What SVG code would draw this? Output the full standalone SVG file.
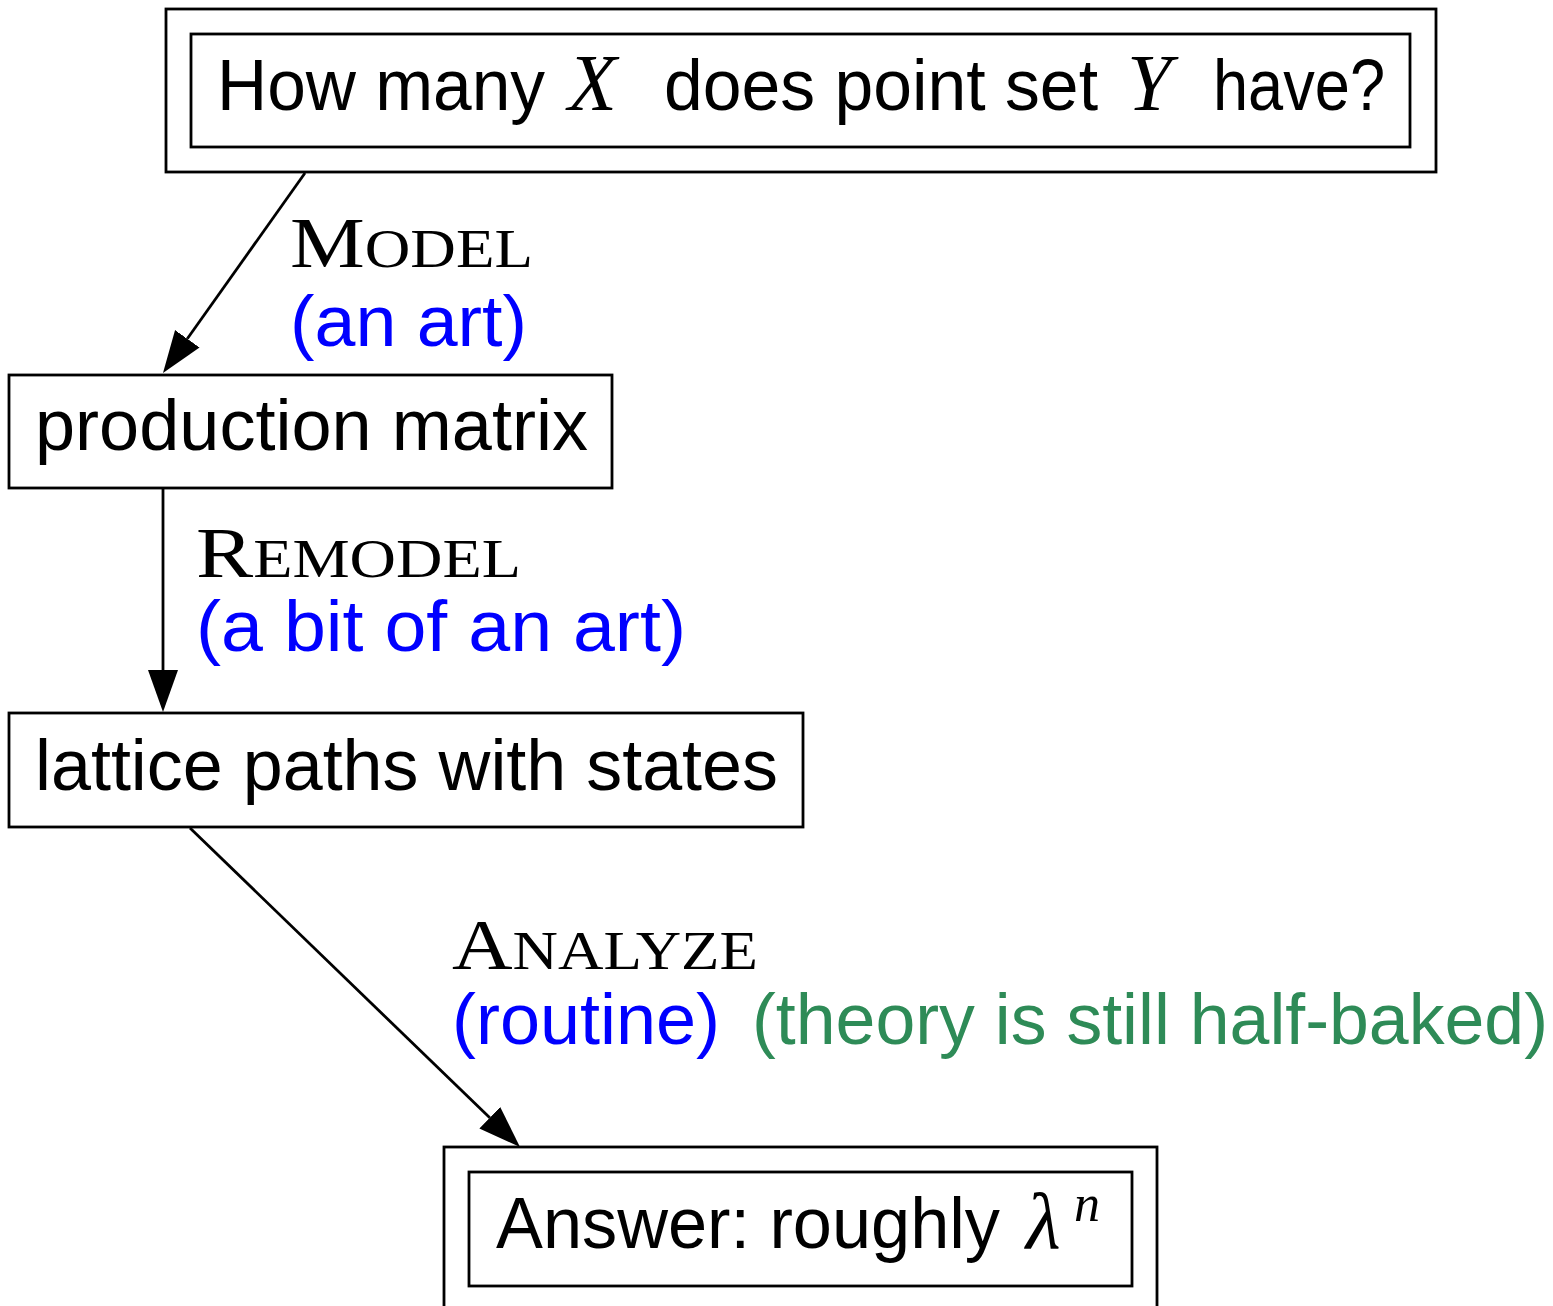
<svg xmlns="http://www.w3.org/2000/svg" width="1553" height="1306" viewBox="0 0 1553 1306">
<style>
.box{fill:none;stroke:#000;stroke-width:2.8}
.edge{fill:none;stroke:#000;stroke-width:2.8}
.sans{font-family:"Liberation Sans",Arial,sans-serif;font-size:72px;fill:#000}
.math{font-family:"Liberation Serif","Times New Roman",serif;font-style:italic;font-size:80px;fill:#000}
.sup{font-size:52px}
.sc{font-family:"Liberation Serif","Times New Roman",serif;font-size:72px;fill:#000}
.blue{fill:#0000ff}
.green{fill:#2e8b57}
</style>
<defs>
<marker id="arr" markerUnits="userSpaceOnUse" markerWidth="44" markerHeight="32" refX="0" refY="15" orient="auto">
<path d="M0,0 L42,15 L0,30 z" fill="#000"/>
</marker>
</defs>
<rect width="1553" height="1306" fill="#fff"/>
<g id="connectors">
<line class="edge" x1="305" y1="173" x2="187.3" y2="338.8" marker-end="url(#arr)"/>
<line class="edge" x1="163" y1="489" x2="163" y2="670" marker-end="url(#arr)"/>
<line class="edge" x1="190" y1="828" x2="489.8" y2="1117.8" marker-end="url(#arr)"/>
</g>
<g id="label-model">
<text class="sc" x="290" y="267" textLength="243" lengthAdjust="spacingAndGlyphs">M<tspan font-size="54">ODEL</tspan></text>
<text class="sans blue" x="290" y="346" textLength="237" lengthAdjust="spacingAndGlyphs">(an art)</text>
</g>
<g id="label-remodel">
<text class="sc" x="196" y="577" textLength="325" lengthAdjust="spacingAndGlyphs">R<tspan font-size="54">EMODEL</tspan></text>
<text class="sans blue" x="196" y="651" textLength="490" lengthAdjust="spacingAndGlyphs">(a bit of an art)</text>
</g>
<g id="label-analyze">
<text class="sc" x="452" y="969" textLength="306" lengthAdjust="spacingAndGlyphs">A<tspan font-size="54">NALYZE</tspan></text>
<text class="sans blue" x="452" y="1044" textLength="268" lengthAdjust="spacingAndGlyphs">(routine)</text>
<text class="sans green" x="752" y="1044" textLength="796" lengthAdjust="spacingAndGlyphs">(theory is still half-baked)</text>
</g>
<g id="node-question">
<rect class="box" x="166" y="9" width="1270" height="163"/>
<rect class="box" x="191" y="34" width="1219" height="113"/>
<text class="sans" x="217" y="110" textLength="328" lengthAdjust="spacingAndGlyphs">How many</text>
<text class="math" x="568" y="110">X</text>
<text class="sans" x="664" y="110" textLength="434" lengthAdjust="spacingAndGlyphs">does point set</text>
<text class="math" x="1127" y="110">Y</text>
<text class="sans" x="1213" y="110" textLength="172" lengthAdjust="spacingAndGlyphs">have?</text>
</g>
<g id="node-production">
<rect class="box" x="9" y="375" width="603" height="113"/>
<text class="sans" x="35" y="450" textLength="553" lengthAdjust="spacingAndGlyphs">production matrix</text>
</g>
<g id="node-lattice">
<rect class="box" x="9" y="713" width="794" height="114"/>
<text class="sans" x="35" y="790" textLength="743" lengthAdjust="spacingAndGlyphs">lattice paths with states</text>
</g>
<g id="node-answer">
<rect class="box" x="444" y="1147" width="713" height="170"/>
<rect class="box" x="469" y="1172" width="663" height="114"/>
<text class="sans" x="496" y="1248" textLength="504" lengthAdjust="spacingAndGlyphs">Answer: roughly</text>
<text class="math" x="1026" y="1248">λ</text>
<text class="math sup" x="1074" y="1221">n</text>
</g>
</svg>
